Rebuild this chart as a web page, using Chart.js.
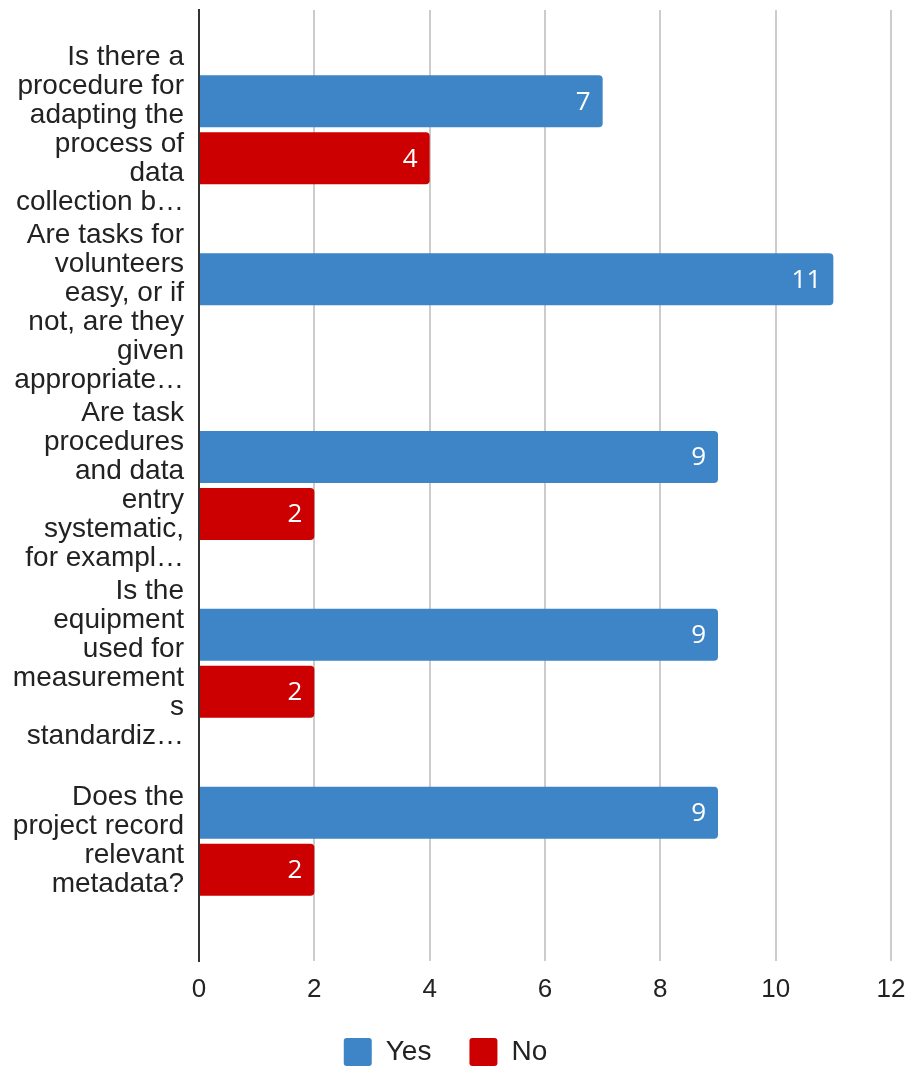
<!DOCTYPE html>
<html>
<head>
<meta charset="utf-8">
<script src="https://cdn.jsdelivr.net/npm/chart.js@4.4.1/dist/chart.umd.min.js"></script>
<style>
  html, body { margin: 0; padding: 0; background: #fff; overflow: hidden; }
  #wrap { width: 911px; height: 1066px; position: relative; }
</style>
</head>
<body>
<div id="wrap"><canvas id="chart"></canvas></div>
<script>
// Questions (wrapped and shortened the way they appear on the axis)
const questions = [
    ['Is there a', 'procedure for', 'adapting the', 'process of', 'data', 'collection b…'],
    ['Are tasks for', 'volunteers', 'easy, or if', 'not, are they', 'given', 'appropriate…'],
    ['Are task', 'procedures', 'and data', 'entry', 'systematic,', 'for exampl…'],
    ['Is the', 'equipment', 'used for', 'measurement', 's', 'standardiz…'],
    ['Does the', 'project record', 'relevant', 'metadata?']
];
const yesCounts = [7, 11, 9, 9, 9];
const noCounts = [4, null, 2, 2, 2];
const xTicks = [0, 2, 4, 6, 8, 10, 12];

const FONT = '"Liberation Sans", Arial, sans-serif';

// White value labels inside the end of each bar
const barValueLabels = {
    id: 'barValueLabels',
    afterDatasetsDraw(chart) {
        const ctx = chart.ctx;
        ctx.save();
        ctx.font = '500 26px "Open Sans"';
        ctx.fillStyle = '#ffffff';
        ctx.textAlign = 'right';
        ctx.textBaseline = 'middle';
        chart.data.datasets.forEach((ds, i) => {
            chart.getDatasetMeta(i).data.forEach((bar, j) => {
                const v = ds.data[j];
                if (v === null || v === undefined) return;
                ctx.fillText(String(v), bar.x - 12, bar.y + 1);
            });
        });
        ctx.restore();
    }
};

new Chart(document.getElementById('chart'), {
    type: 'bar',
    data: {
        labels: questions,
        datasets: [
            {
                label: 'Yes',
                data: yesCounts,
                backgroundColor: '#3d85c6',
                borderRadius: 4,
                categoryPercentage: 0.641,
                barPercentage: 0.912
            },
            {
                label: 'No',
                data: noCounts,
                backgroundColor: '#cc0000',
                borderRadius: 4,
                categoryPercentage: 0.641,
                barPercentage: 0.912
            }
        ]
    },
    options: {
        indexAxis: 'y',
        responsive: true,
        maintainAspectRatio: false,
        animation: false,
        // legend row hangs a little past the bottom edge
        layout: { padding: { top: 10, right: 20, bottom: -10, left: 0 } },
        plugins: {
            tooltip: { enabled: false },
            legend: {
                position: 'bottom',
                labels: {
                    boxWidth: 28,
                    boxHeight: 28,
                    useBorderRadius: true,
                    borderRadius: 3,
                    padding: 38,
                    color: '#222',
                    font: { family: FONT, size: 28 }
                }
            }
        },
        scales: {
            x: {
                min: 0,
                max: 12,
                afterBuildTicks(scale) {
                    scale.ticks = xTicks.map(v => ({ value: v }));
                },
                afterFit(scale) {
                    scale.height = 39;
                    scale.paddingLeft = 0;
                    scale.paddingRight = 0;
                },
                grid: {
                    color: ctx => ctx.tick && ctx.tick.value === 0 ? '#333' : '#cccccc',
                    lineWidth: 2,
                    drawTicks: false
                },
                border: { display: false },
                ticks: {
                    padding: 13,
                    color: '#222',
                    font: { family: FONT, size: 26 }
                }
            },
            y: {
                // stretch the outer half-bands so the categories sit lower/higher
                afterBuildTicks(scale) {
                    scale._startValue = -0.674;
                    scale._valueRange = questions.length - 1 + 2 * 0.674;
                },
                afterFit(scale) {
                    scale.width = 199;
                    scale.paddingTop = 0;
                    scale.paddingBottom = 0;
                },
                grid: { display: false, drawTicks: false },
                border: { display: true, color: '#333', width: 2 },
                ticks: {
                    padding: 15,
                    color: '#222',
                    autoSkip: false,
                    font: { family: FONT, size: 28, lineHeight: 29 / 28 }
                }
            }
        }
    },
    plugins: [barValueLabels]
});
</script>
</body>
</html>
